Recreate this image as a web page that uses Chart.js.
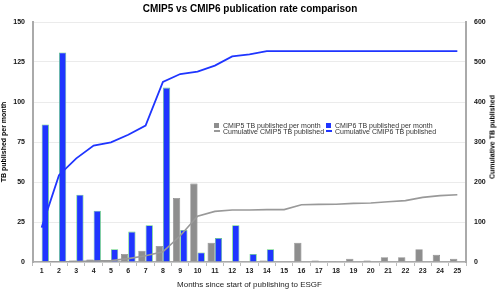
<!DOCTYPE html>
<html>
<head>
<meta charset="utf-8">
<script src="https://cdn.jsdelivr.net/npm/chart.js@4"></script>
<style>
  html, body { margin: 0; padding: 0; background: #fff; }
  #wrap { position: relative; width: 500px; height: 291px; font-family: "Liberation Sans", Arial, sans-serif; }
  #legend { position: absolute; left: 214px; top: 122px; font-size: 7px; color: #333; line-height: 7px; }
  #legend .row { display: flex; white-space: nowrap; height: 6px; }
  #legend .item { display: flex; align-items: center; width: 112px; }
  #legend .sq { width: 5px; height: 5px; margin-right: 4px; }
  #legend .ln { width: 6px; height: 1.5px; margin-right: 3px; }
  #ytitle2 { position: absolute; left: 492px; top: 137px; font-size: 7px; font-weight: bold; color: #000;
             transform: translate(-50%, -50%) rotate(-90deg); white-space: nowrap; }
</style>
</head>
<body>
<div id="wrap">
  <canvas id="chart" width="500" height="291"></canvas>
  <div id="legend">
    <div class="row">
      <div class="item"><span class="sq" style="background:#8e8e8e"></span>CMIP5 TB published per month</div>
      <div class="item"><span class="sq" style="background:#1f35ff"></span>CMIP6 TB published per month</div>
    </div>
    <div class="row">
      <div class="item"><span class="ln" style="background:#999"></span>Cumulative CMIP5 TB published</div>
      <div class="item"><span class="ln" style="background:#1f35ff"></span>Cumulative CMIP6 TB published</div>
    </div>
  </div>
  <div id="ytitle2">Cumulative TB published</div>
</div>
<script>
const months = ['1','2','3','4','5','6','7','8','9','10','11','12','13','14','15','16','17','18','19','20','21','22','23','24','25'];
const cmip5Monthly = [0, 0, 1, 1.5, 1, 5, 7, 10, 40, 49, 12, 0.3, 0.3, 1, 0, 12, 1, 0.5, 2, 1, 3, 3, 8, 4.5, 2];
const cmip6Monthly = [86, 131, 42, 32, 8, 19, 23, 109, 20, 6, 15, 23, 5, 8, 0, 0, 0, 0, 0, 0, 0, 0, 0, 0, 0];
const cmip5Cumulative = [0, 0, 1, 2.5, 3.5, 8.5, 15.5, 25.5, 65.5, 114.5, 126.5, 130, 130, 131, 131, 143, 144, 144.5, 146.5, 147.5, 150.5, 153.5, 161.5, 166, 168];
const cmip6Cumulative = [86, 217, 259, 291, 299, 318, 341, 450, 470, 476, 491, 514, 519, 527, 527, 527, 527, 527, 527, 527, 527, 527, 527, 527, 527];

const FONT = '"Liberation Sans", Arial, sans-serif';
const blue = '#1f35ff';
const grey = '#8e8e8e';

new Chart(document.getElementById('chart'), {
  type: 'bar',
  data: {
    labels: months,
    datasets: [
      {
        type: 'line',
        label: 'Cumulative CMIP5 TB published',
        data: cmip5Cumulative,
        yAxisID: 'y1',
        borderColor: '#999999',
        borderWidth: 1.6,
        pointRadius: 0,
        tension: 0,
        order: 0,
      },
      {
        type: 'line',
        label: 'Cumulative CMIP6 TB published',
        data: cmip6Cumulative,
        yAxisID: 'y1',
        borderColor: blue,
        borderWidth: 1.8,
        pointRadius: 0,
        tension: 0,
        order: 0,
      },
      {
        label: 'CMIP5 TB published per month',
        data: cmip5Monthly,
        yAxisID: 'y',
        backgroundColor: grey,
        borderColor: '#7a7a7a',
        borderWidth: 0.6,
        barPercentage: 1,
        categoryPercentage: 0.84,
        order: 1,
      },
      {
        label: 'CMIP6 TB published per month',
        data: cmip6Monthly,
        yAxisID: 'y',
        backgroundColor: blue,
        borderColor: '#5fd07a',
        borderWidth: 0.8,
        barPercentage: 1,
        categoryPercentage: 0.84,
        order: 1,
      },
    ],
  },
  options: {
    responsive: false,
    animation: false,
    layout: { padding: 0 },
    plugins: {
      legend: { display: false },
      tooltip: { enabled: false },
      title: {
        display: true,
        text: 'CMIP5 vs CMIP6 publication rate comparison',
        color: '#000',
        font: { family: FONT, size: 10, weight: 'bold' },
        padding: { top: 3, bottom: 7 },
      },
    },
    scales: {
      x: {
        grid: { drawOnChartArea: false, drawTicks: true, tickLength: 4, color: '#bbb' },
        border: { color: '#aaa', width: 1.5 },
        ticks: { color: '#222', font: { family: FONT, size: 7, weight: 'bold' }, padding: 1, maxRotation: 0, autoSkip: false },
        title: { display: true, text: 'Months since start of publishing to ESGF', color: '#222', font: { family: FONT, size: 8 }, padding: { top: 1, bottom: 1 } },
        afterFit: s => { s.height = 29; },
      },
      y: {
        position: 'left',
        min: 0,
        max: 150,
        grid: { color: '#ebebeb', lineWidth: 1, drawTicks: false },
        border: { color: '#aaa', width: 2 },
        ticks: { stepSize: 25, color: '#111', font: { family: FONT, size: 7, weight: 'bold' }, padding: 8 },
        title: { display: true, text: 'TB published per month', color: '#000', font: { family: FONT, size: 7, weight: 'bold' }, padding: 0 },
        afterFit: s => { s.width = 33; },
      },
      y1: {
        position: 'right',
        min: 0,
        max: 600,
        grid: { drawOnChartArea: false, drawTicks: false },
        border: { color: '#aaa', width: 2 },
        ticks: { stepSize: 100, color: '#111', font: { family: FONT, size: 7, weight: 'bold' }, padding: 8 },
        afterFit: s => { s.width = 34; },
      },
    },
  },
});
</script>
</body>
</html>
